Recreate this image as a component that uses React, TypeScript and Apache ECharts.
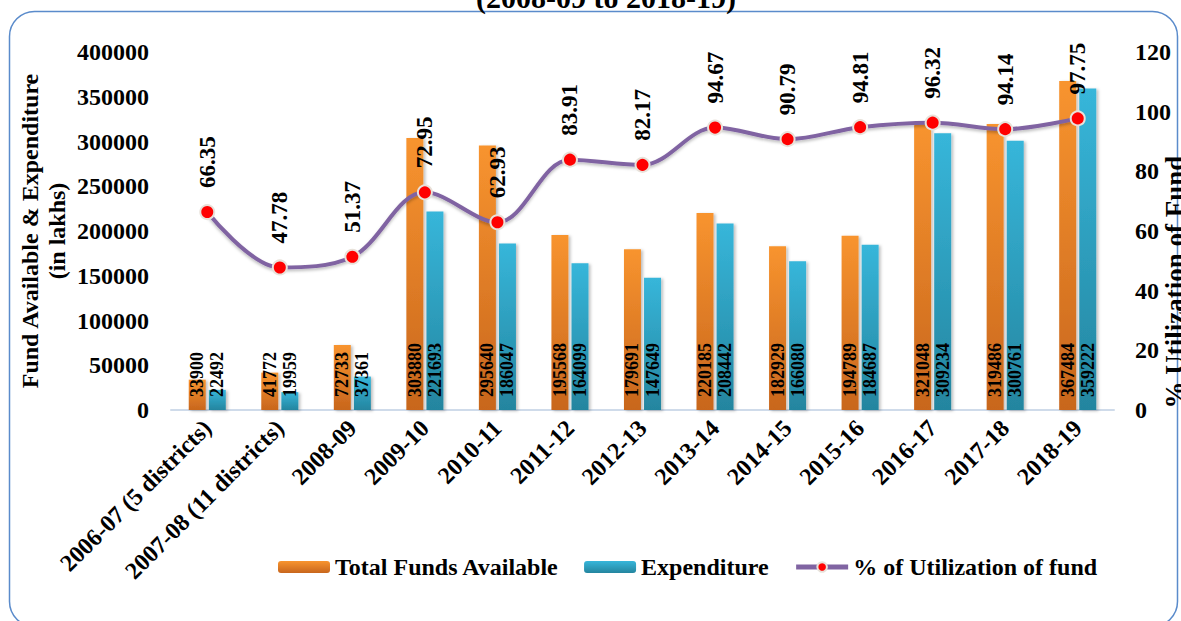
import React, { useEffect, useRef } from "react";
import * as echarts from "echarts";

const categories = [
  "2006-07 (5 districts)",
  "2007-08 (11 districts)",
  "2008-09",
  "2009-10",
  "2010-11",
  "2011-12",
  "2012-13",
  "2013-14",
  "2014-15",
  "2015-16",
  "2016-17",
  "2017-18",
  "2018-19",
];
const totalFunds = [33900, 41772, 72733, 303880, 295640, 195568, 179691, 220185, 182929, 194789, 321048, 319486, 367484];
const expenditure = [22492, 19959, 37361, 221693, 186047, 164099, 147649, 208442, 166080, 184687, 309234, 300761, 359222];
const utilization = [66.35, 47.78, 51.37, 72.95, 62.93, 83.91, 82.17, 94.67, 90.79, 94.81, 96.32, 94.14, 97.75];

const FONT = '"Liberation Serif", "Times New Roman", serif';

export default function App() {
  const ref = useRef<HTMLDivElement>(null);
  useEffect(() => {
    if (!ref.current) return;
    const chart = echarts.init(ref.current, undefined, { renderer: "svg" });
    const orange = new echarts.graphic.LinearGradient(0, 0, 0, 1, [
      { offset: 0, color: "#f8942f" },
      { offset: 1, color: "#c8661d" },
    ]);
    const blue = new echarts.graphic.LinearGradient(0, 0, 0, 1, [
      { offset: 0, color: "#37b6da" },
      { offset: 1, color: "#24859f" },
    ]);
    const barLabel = {
      show: true,
      position: "insideBottom",
      rotate: 90,
      align: "left",
      verticalAlign: "middle",
      distance: 13,
      color: "#000",
      fontFamily: FONT,
      fontSize: 18,
      fontWeight: "bold",
    };
    chart.setOption({
      animation: false,
      textStyle: { fontFamily: FONT },
      grid: { left: 171, right: 67, top: 52, bottom: 211, containLabel: false },
      graphic: [
        {
          type: "rect",
          shape: { x: 9.5, y: 11.5, width: 1168, height: 615, r: 25 },
          style: { fill: "none", stroke: "#5a8bcb", lineWidth: 1.5 },
          z: -1,
        },
        {
          type: "text",
          x: 606,
          y: 12,
          style: {
            text: "(2008-09 to 2018-19)",
            font: `bold 30px ${FONT}`,
            fill: "#000",
            align: "center",
            verticalAlign: "bottom",
          },
        },
        {
          type: "text",
          x: 43,
          y: 231,
          rotation: Math.PI / 2,
          style: {
            text: "Fund Available & Expenditure\n(in lakhs)",
            font: `bold 24px ${FONT}`,
            lineHeight: 27,
            fill: "#000",
            align: "center",
            verticalAlign: "middle",
          },
        },
        {
          type: "text",
          x: 1175,
          y: 282,
          rotation: Math.PI / 2,
          style: {
            text: "% Utilization of Fund",
            font: `bold 27px ${FONT}`,
            fill: "#000",
            align: "center",
            verticalAlign: "middle",
          },
        },
      ],
      legend: {
        left: 273,
        top: 550,
        itemWidth: 52,
        itemHeight: 12,
        itemGap: 25,
        textStyle: { fontFamily: FONT, fontSize: 24, fontWeight: "bold", color: "#000" },
        data: [
          "Total Funds Available",
          "Expenditure",
          {
            name: "% of Utilization of fund",
            lineStyle: { width: 5, color: "#8064a2" },
            itemStyle: { color: "#ff0000", borderColor: "#e8e2da", borderWidth: 2 },
          },
        ],
      },
      xAxis: {
        type: "category",
        data: categories,
        axisLine: { show: true, lineStyle: { color: "#cfdbea", width: 2 } },
        axisTick: { show: false },
        axisLabel: {
          rotate: 45,
          interval: 0,
          margin: 14,
          color: "#000",
          fontFamily: FONT,
          fontSize: 24,
          fontWeight: "bold",
        },
      },
      yAxis: [
        {
          type: "value",
          min: 0,
          max: 400000,
          interval: 50000,
          splitLine: { show: false },
          axisLine: { show: false },
          axisTick: { show: false },
          axisLabel: {
            margin: 22,
            color: "#000",
            fontFamily: FONT,
            fontSize: 24,
            fontWeight: "bold",
            formatter: (v: number) => String(v),
          },
        },
        {
          type: "value",
          min: 0,
          max: 120,
          interval: 20,
          splitLine: { show: false },
          axisLine: { show: false },
          axisTick: { show: false },
          axisLabel: {
            margin: 21,
            color: "#000",
            fontFamily: FONT,
            fontSize: 24,
            fontWeight: "bold",
            formatter: (v: number) => String(v),
          },
        },
      ],
      series: [
        {
          name: "Total Funds Available",
          type: "bar",
          data: totalFunds,
          barWidth: 17,
          barGap: "18%",
          itemStyle: {
            color: orange,
            shadowBlur: 3,
            shadowColor: "rgba(0,0,0,0.25)",
            shadowOffsetX: 2,
            shadowOffsetY: 1,
          },
          label: barLabel,
        },
        {
          name: "Expenditure",
          type: "bar",
          data: expenditure,
          barWidth: 17,
          itemStyle: {
            color: blue,
            shadowBlur: 3,
            shadowColor: "rgba(0,0,0,0.25)",
            shadowOffsetX: 2,
            shadowOffsetY: 1,
          },
          label: barLabel,
        },
        {
          name: "% of Utilization of fund",
          type: "line",
          yAxisIndex: 1,
          data: utilization,
          smooth: 0.35,
          symbol: "circle",
          symbolSize: 14,
          z: 5,
          lineStyle: { color: "#8064a2", width: 4, shadowBlur: 3, shadowColor: "rgba(0,0,0,0.25)", shadowOffsetY: 2 },
          itemStyle: { color: "#ff0000", borderColor: "#e8e2da", borderWidth: 2 },
          label: {
            show: true,
            position: "top",
            distance: 16,
            rotate: 90,
            align: "left",
            verticalAlign: "middle",
            color: "#000",
            fontFamily: FONT,
            fontSize: 23,
            fontWeight: "bold",
          },
        },
      ],
    });
    return () => chart.dispose();
  }, []);
  return (
    <div
      ref={ref}
      style={{ position: "fixed", left: 0, top: 0, width: 1181, height: 621, background: "#fff" }}
    />
  );
}
